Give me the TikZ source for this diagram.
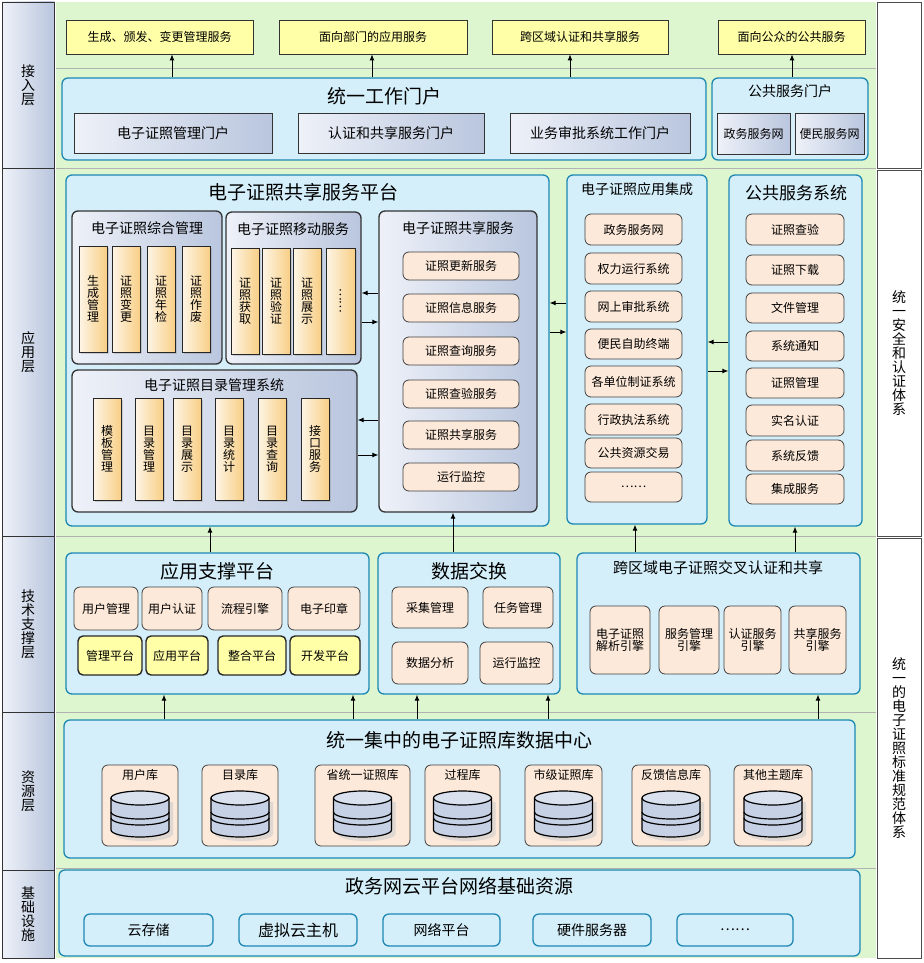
\documentclass[tikz,border=0pt]{standalone}
\usepackage{fontspec}
\setmainfont{Noto Sans CJK SC}
\usetikzlibrary{arrows.meta,shadows}
\definecolor{bggreen}{HTML}{DDF6CF}
\definecolor{pblue}{HTML}{D4EFFA}
\definecolor{pborder}{HTML}{1E88B4}
\definecolor{ylw}{HTML}{FFFFA8}
\definecolor{pink}{HTML}{FDE9D9}
\definecolor{gbl}{HTML}{EEF1F8}
\definecolor{gbr}{HTML}{B9C6DE}
\definecolor{orl}{HTML}{FDF5E6}
\definecolor{orr}{HTML}{F8CF86}
\newcommand\fs[1]{\fontsize{#1}{#1}\selectfont}
% \bx{name}{style}{x1}{y1}{x2}{y2}{text}
\newcommand\bx[7]{\node[#2,inner sep=0pt,minimum width={#5pt-#3pt},minimum height={#6pt-#4pt}] (#1) at ({(#3+#5)/2},{(#4+#6)/2}) {#7};}
\tikzset{
 panel/.style={draw=pborder,line width=1.3pt,fill=pblue,rounded corners=6pt},
 topy/.style={draw=black!80,line width=0.8pt,fill=ylw,font=\fs{12}},
 gpanel/.style={draw=black!80,line width=1.3pt,left color=gbl,right color=gbr,rounded corners=6pt},
 gsub/.style={draw=black!80,line width=1pt,left color=gbl,right color=gbr,font=\fs{14}},
 bar/.style={draw=black!85,line width=1pt,left color=orl,right color=orr,font=\fs{12},align=center,drop shadow={opacity=0.3,shadow xshift=2pt,shadow yshift=-2pt}},
 item/.style={draw=black!75,line width=0.8pt,fill=pink,rounded corners=6pt,font=\fs{12}},
 yitem/.style={draw=black!85,line width=1.4pt,fill=ylw,rounded corners=5pt,font=\fs{12}},
 infra/.style={draw=pborder,line width=1.3pt,fill=pblue,rounded corners=6pt,font=\fs{14}},
 layer/.style={draw=black!80,line width=0.8pt,left color=gbl,right color=gbr,font=\fs{14},align=center},
 side/.style={draw=black!70,line width=0.8pt,fill=white,font=\fs{14},align=center},
 ttl/.style={font=\fs{19}},
 stl/.style={font=\fs{14}},
 arr/.style={-{Latex[length=6pt,width=5pt]},line width=0.9pt,black},
}
\newcommand\dbcyl[2]{%
 \begin{scope}[shift={(#1,#2)}]
  \fill[gray!40,opacity=0.6] (-25,-14) -- (-25,18) arc[start angle=180,end angle=360,x radius=29pt,y radius=7pt] -- (33,-14) -- cycle;
  \draw[line width=1.2pt,fill=gbr!80] (-29,-18) -- (-29,14) arc[start angle=180,end angle=360,x radius=29pt,y radius=7pt] -- (29,-18);
  \draw[line width=1.2pt,fill=gbl!60!gbr] (0,-18) ellipse[x radius=29pt,y radius=7pt];
  \draw[line width=1.2pt] (-29,-4) arc[start angle=180,end angle=360,x radius=29pt,y radius=7pt];
  \draw[line width=1.2pt] (-29,2) arc[start angle=180,end angle=360,x radius=29pt,y radius=7pt];
 \end{scope}}
\begin{document}
\begin{tikzpicture}[x=1pt,y=-1pt]
\useasboundingbox (0,0) rectangle (923,963);
\fill[white] (0,0) rectangle (923,963);
\fill[bggreen] (56,2) rectangle (876,958);
\foreach \yy in {68,168,536,712,868} \draw[gray!60] (56,\yy) -- (876,\yy);
% layers
\bx{L1}{layer}{2}{2}{54}{168}{接\\入\\层}
\bx{L2}{layer}{2}{168}{54}{536}{应\\用\\层}
\bx{L3}{layer}{2}{536}{54}{712}{技\\术\\支\\撑\\层}
\bx{L4}{layer}{2}{712}{54}{870}{资\\源\\层}
\bx{L5}{layer}{2}{870}{54}{958}{基\\础\\设\\施}
\bx{R0}{side}{877}{2}{921}{168}{}
\bx{R1}{side}{877}{170}{921}{536}{统\\一\\安\\全\\和\\认\\证\\体\\系}
\bx{R2}{side}{877}{538}{921}{958}{统\\一\\的\\电\\子\\证\\照\\标\\准\\规\\范\\体\\系}
% top
\bx{t1}{topy}{66}{20}{253}{54}{生成、颁发、变更管理服务}
\bx{t2}{topy}{279}{20}{467}{54}{面向部门的应用服务}
\bx{t3}{topy}{492}{20}{668}{54}{跨区域认证和共享服务}
\bx{t4}{topy}{718}{20}{865}{54}{面向公众的公共服务}
\bx{portal}{panel}{62}{78}{706}{160}{}
\node[ttl] at (384,96) {统一工作门户};
\bx{p1}{gsub}{74}{114}{272}{153}{电子证照管理门户}
\bx{p2}{gsub}{298}{114}{484}{153}{认证和共享服务门户}
\bx{p3}{gsub}{510}{114}{690}{153}{业务审批系统工作门户}
\bx{pub}{panel}{712}{78}{868}{160}{}
\node[stl] at (790,91) {公共服务门户};
\bx{pp1}{gsub,font=\fs{12}}{717}{114}{790}{154}{政务服务网}
\bx{pp2}{gsub,font=\fs{12}}{795}{114}{864}{154}{便民服务网}
\draw[arr] (172,0 |- portal.north) -- (172,0 |- t1.south);
\draw[arr] (372,0 |- portal.north) -- (372,0 |- t2.south);
\draw[arr] (570,0 |- portal.north) -- (570,0 |- t3.south);
\draw[arr] (792,0 |- pub.north) -- (792,0 |- t4.south);
% application layer
\bx{plat}{panel}{66}{175}{549}{526}{}
\node[ttl] at (303,192) {电子证照共享服务平台};
\bx{zh}{gpanel}{72}{211}{222}{364}{}
\node[stl] at (147,228) {电子证照综合管理};
\bx{b1}{bar}{79}{246}{107}{352}{生\\成\\管\\理}
\bx{b2}{bar}{112}{246}{140}{352}{证\\照\\变\\更}
\bx{b3}{bar}{147}{246}{175}{352}{证\\照\\年\\检}
\bx{b4}{bar}{182}{246}{210}{352}{证\\照\\作\\废}
\bx{mob}{gpanel}{226}{212}{361}{364}{}
\node[stl] at (293,229) {电子证照移动服务};
\bx{m1}{bar}{231}{248}{259}{354}{证\\照\\获\\取}
\bx{m2}{bar}{262}{248}{290}{354}{证\\照\\验\\证}
\bx{m3}{bar}{293}{248}{321}{354}{证\\照\\展\\示}
\bx{m4}{bar}{326}{248}{355}{354}{\rotatebox{90}{……}}
\bx{ml}{gpanel}{72}{370}{357}{512}{}
\node[stl] at (214,385) {电子证照目录管理系统};
\bx{c1}{bar}{93}{398}{121}{500}{模\\板\\管\\理}
\bx{c2}{bar}{135}{398}{163}{500}{目\\录\\管\\理}
\bx{c3}{bar}{173}{398}{201}{500}{目\\录\\展\\示}
\bx{c4}{bar}{215}{398}{243}{500}{目\\录\\统\\计}
\bx{c5}{bar}{258}{398}{286}{500}{目\\录\\查\\询}
\bx{c6}{bar}{301}{398}{329}{500}{接\\口\\服\\务}
\bx{sh}{gpanel}{379}{211}{537}{512}{}
\node[stl] at (458,228) {电子证照共享服务};
\bx{s1}{item}{403}{252}{519}{280}{证照更新服务}
\bx{s2}{item}{403}{294}{519}{322}{证照信息服务}
\bx{s3}{item}{403}{337}{519}{365}{证照查询服务}
\bx{s4}{item}{403}{380}{519}{408}{证照查验服务}
\bx{s5}{item}{403}{421}{519}{449}{证照共享服务}
\bx{s6}{item}{403}{463}{519}{491}{运行监控}
\draw[arr] (sh.west |- 0,293) -- (mob.east |- 0,293);
\draw[arr] (mob.east |- 0,322) -- (sh.west |- 0,322);
\draw[arr] (sh.west |- 0,420) -- (ml.east |- 0,420);
\draw[arr] (ml.east |- 0,455) -- (sh.west |- 0,455);
\bx{ji}{panel}{567}{175}{707}{524}{}
\node[stl] at (637,189) {电子证照应用集成};
\bx{j1}{item}{585}{214}{682}{245}{政务服务网}
\bx{j2}{item}{585}{253}{682}{284}{权力运行系统}
\bx{j3}{item}{585}{291}{682}{322}{网上审批系统}
\bx{j4}{item}{585}{329}{682}{359}{便民自助终端}
\bx{j5}{item}{585}{366}{682}{397}{各单位制证系统}
\bx{j6}{item}{585}{404}{682}{435}{行政执法系统}
\bx{j7}{item}{585}{438}{682}{468}{公共资源交易}
\bx{j8}{item}{585}{472}{682}{502}{……}
\draw[arr] (ji.west |- 0,303) -- (plat.east |- 0,303);
\draw[arr] (plat.east |- 0,332) -- (ji.west |- 0,332);
\bx{gg}{panel}{729}{175}{862}{526}{}
\node[font=\fs{17}] at (796,193) {公共服务系统};
\bx{g1}{item}{746}{214}{844}{245}{证照查验}
\bx{g2}{item}{746}{255}{844}{285}{证照下载}
\bx{g3}{item}{746}{293}{844}{323}{文件管理}
\bx{g4}{item}{746}{331}{844}{361}{系统通知}
\bx{g5}{item}{746}{368}{844}{398}{证照管理}
\bx{g6}{item}{746}{405}{844}{436}{实名认证}
\bx{g7}{item}{746}{440}{844}{471}{系统反馈}
\bx{g8}{item}{746}{474}{844}{504}{集成服务}
\draw[arr] (gg.west |- 0,342) -- (ji.east |- 0,342);
\draw[arr] (ji.east |- 0,371) -- (gg.west |- 0,371);
% technical layer
\bx{yy}{panel}{66}{553}{369}{694}{}
\node[ttl] at (217,571) {应用支撑平台};
\bx{y1}{item}{74}{587}{138}{630}{用户管理}
\bx{y2}{item}{142}{587}{202}{630}{用户认证}
\bx{y3}{item}{208}{587}{282}{630}{流程引擎}
\bx{y4}{item}{288}{587}{360}{630}{电子印章}
\bx{y5}{yitem}{78}{636}{142}{675}{管理平台}
\bx{y6}{yitem}{146}{636}{208}{675}{应用平台}
\bx{y7}{yitem}{218}{636}{286}{675}{整合平台}
\bx{y8}{yitem}{290}{636}{360}{675}{开发平台}
\bx{dx}{panel}{378}{553}{560}{694}{}
\node[ttl] at (469,571) {数据交换};
\bx{d1}{item}{392}{587}{468}{628}{采集管理}
\bx{d2}{item}{483}{587}{553}{628}{任务管理}
\bx{d3}{item}{392}{642}{468}{684}{数据分析}
\bx{d4}{item}{480}{642}{553}{684}{运行监控}
\bx{kq}{panel}{577}{553}{860}{694}{}
\node[font=\fs{15}] at (718,568) {跨区域电子证照交叉认证和共享};
\bx{k1}{item,align=center}{590}{606}{650}{674}{电子证照\\解析引擎}
\bx{k2}{item,align=center}{659}{606}{719}{674}{服务管理\\引擎}
\bx{k3}{item,align=center}{724}{606}{781}{674}{认证服务\\引擎}
\bx{k4}{item,align=center}{789}{606}{846}{674}{共享服务\\引擎}
\draw[arr] (210,0 |- yy.north) -- (210,0 |- plat.south);
\draw[arr] (453,0 |- dx.north) -- (453,0 |- sh.south);
\draw[arr] (635,0 |- kq.north) -- (635,0 |- ji.south);
\draw[arr] (795,0 |- kq.north) -- (795,0 |- gg.south);
% resource layer
\bx{res}{panel}{64}{720}{855}{858}{}
\node[ttl] at (459,740) {统一集中的电子证照库数据中心};
\foreach \n/\xa/\xb/\t in {r1/102/178/用户库,r2/202/278/目录库,r3/315/410/省统一证照库,r4/425/500/过程库,r5/525/602/市级证照库,r6/632/710/反馈信息库,r7/734/812/其他主题库}{
 \bx{\n}{item}{\xa}{765}{\xb}{846}{}
 \node[font=\fs{12}] at ({(\xa+\xb)/2},775) {\t};
 \dbcyl{{(\xa+\xb)/2}}{816}
}
\draw[arr] (164,0 |- res.north) -- (164,0 |- yy.south);
\draw[arr] (353,0 |- res.north) -- (353,0 |- yy.south);
\draw[arr] (417,0 |- res.north) -- (417,0 |- dx.south);
\draw[arr] (548,0 |- res.north) -- (548,0 |- dx.south);
\draw[arr] (818,0 |- res.north) -- (818,0 |- kq.south);
% infrastructure
\bx{inf}{panel}{59}{870}{860}{956}{}
\node[ttl] at (459,886) {政务网云平台网络基础资源};
\bx{i1}{infra}{84}{914}{213}{946}{云存储}
\bx{i2}{infra,font=\fs{16}}{239}{914}{357}{946}{虚拟云主机}
\bx{i3}{infra}{383}{914}{500}{946}{网络平台}
\bx{i4}{infra}{533}{914}{651}{946}{硬件服务器}
\bx{i5}{infra}{677}{914}{793}{946}{……}
\end{tikzpicture}
\end{document}
